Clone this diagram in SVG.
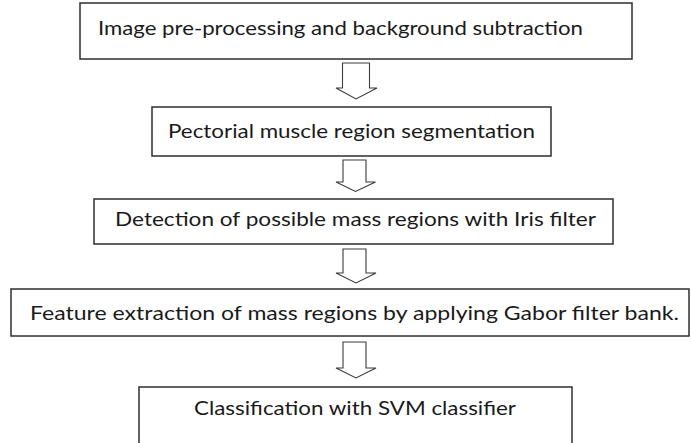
<svg xmlns="http://www.w3.org/2000/svg" width="691" height="443" viewBox="0 0 691 443">
  <style>
    .box { fill: #ffffff; stroke: #2e2e2e; stroke-width: 1.5; }
    .lbl { font-family: Lato, "Open Sans", "Liberation Sans", sans-serif; font-size: 20px; fill: #1a1a1a; }
    .arrow { fill: #ffffff; stroke: #3a3a3a; stroke-width: 1.1; stroke-linejoin: miter; }
  </style>
  <rect width="691" height="443" fill="#ffffff"/>

  <g id="connectors">
    <path class="arrow" d="M342.5,63 H369.5 V88 H377 L356,99 L336,88 H342.5 Z"/>
    <path class="arrow" d="M343,160 H366 V182 H375.5 L355.5,191.5 L336,182 H343 Z"/>
    <path class="arrow" d="M343,249 H366 V273 H376 L356,283 L336,273 H343 Z"/>
    <path class="arrow" d="M343,342 H366 V368 H376 L356,378 L336,368 H343 Z"/>
  </g>

  <g id="preprocessing">
    <rect class="box" x="80" y="3" width="552" height="56"/>
    <text class="lbl" x="98" y="35" textLength="485" lengthAdjust="spacingAndGlyphs">Image pre-processing and background subtraction</text>
  </g>

  <g id="pectoral-segmentation">
    <rect class="box" x="152" y="107" width="399" height="49"/>
    <text class="lbl" x="168" y="138" textLength="367" lengthAdjust="spacingAndGlyphs">Pectorial muscle region segmentation</text>
  </g>

  <g id="mass-detection">
    <rect class="box" x="94" y="199" width="519" height="45"/>
    <text class="lbl" x="115" y="226" textLength="481" lengthAdjust="spacingAndGlyphs">Detection of possible mass regions with Iris filter</text>
  </g>

  <g id="feature-extraction">
    <rect class="box" x="11" y="289" width="678" height="47"/>
    <text class="lbl" x="30" y="320" textLength="649" lengthAdjust="spacingAndGlyphs">Feature extraction of mass regions by applying Gabor filter bank.</text>
  </g>

  <g id="classification">
    <rect class="box" x="139" y="387" width="433" height="70"/>
    <text class="lbl" x="194" y="415" textLength="322" lengthAdjust="spacingAndGlyphs">Classification with SVM classifier</text>
  </g>
</svg>
